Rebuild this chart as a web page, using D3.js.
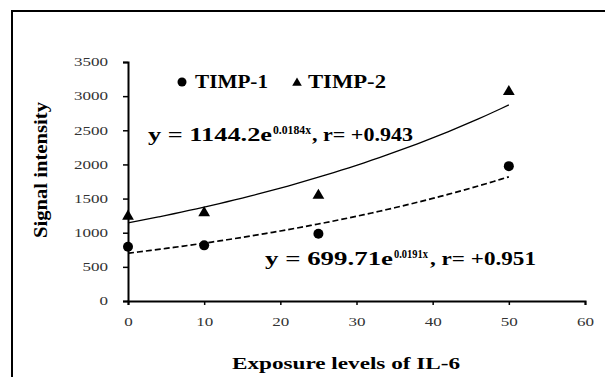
<!DOCTYPE html>
<html>
<head>
<meta charset="utf-8">
<script src="https://cdn.jsdelivr.net/npm/d3@7"></script>
<style>
  body { margin: 0; background: #fff; }
  .bold { font-family: "Liberation Serif", serif; font-weight: bold; }
</style>
</head>
<body>
<script>
// exposure levels and measured signal
var doses = [0, 10, 25, 50];
var timp1 = [795, 815, 985, 1975];
var timp2 = [1255, 1305, 1560, 3080];
// fitted exponential trends, y = a * e^(b x)
var fit1 = {a: 699.71, b: 0.0191, label: "699.71e", exp: "0.0191x", r: "+0.951"};
var fit2 = {a: 1144.2, b: 0.0184, label: "1144.2e", exp: "0.0184x", r: "+0.943"};
var xTicks = [0, 10, 20, 30, 40, 50, 60];
var yTicks = [0, 500, 1000, 1500, 2000, 2500, 3000, 3500];

var W = 605, H = 377;
var svg = d3.select("body").append("svg")
    .attr("width", W)
    .attr("height", H);

// outer frame, runs off the right and bottom edges
svg.append("rect")
    .attr("x", 12).attr("y", 11)
    .attr("width", 620).attr("height", 400)
    .attr("fill", "none")
    .attr("stroke", "#000")
    .attr("stroke-width", 2);

var x = d3.scaleLinear().domain([0, 60]).range([128, 585]);
var y = d3.scaleLinear().domain([0, 3500]).range([301, 62]);

var xAxis = svg.append("g")
    .attr("transform", "translate(0," + y(0) + ")")
    .call(d3.axisBottom(x).tickValues(xTicks).tickFormat(d3.format("d"))
        .tickSize(4).tickPadding(10));
var yAxis = svg.append("g")
    .attr("transform", "translate(" + x(0) + ",0)")
    .call(d3.axisLeft(y).tickValues(yTicks).tickFormat(d3.format("d"))
        .tickSize(5).tickPadding(15));
[xAxis, yAxis].forEach(function(a) {
  a.attr("font-family", "Liberation Serif").attr("font-size", 12);
  a.select(".domain").attr("stroke-width", 2);
  a.selectAll(".tick line").attr("stroke-width", 1.5);
  a.selectAll(".tick text").attr("fill", "#333")
      .attr("lengthAdjust", "spacingAndGlyphs")
      .attr("textLength", function(d) { return String(d).length * 8.5; });
});
xAxis.selectAll(".tick text").attr("dy", "0.9em");

// trend lines from the fitted equations
function trend(f) {
  var pts = d3.range(0, 50.5, 1).map(function(d) { return [d, f.a * Math.exp(f.b * d)]; });
  return d3.line().x(function(d) { return x(d[0]); }).y(function(d) { return y(d[1]); })
      .curve(d3.curveMonotoneX)(pts);
}
svg.append("path").attr("d", trend(fit2))
    .attr("fill", "none").attr("stroke", "#000").attr("stroke-width", 1.3);
svg.append("path").attr("d", trend(fit1))
    .attr("fill", "none").attr("stroke", "#000").attr("stroke-width", 1.7)
    .attr("stroke-dasharray", "6,3");

var tri = d3.symbol().type(d3.symbolTriangle).size(60);
svg.selectAll(".p1").data(doses).enter().append("circle")
    .attr("cx", function(d) { return x(d); })
    .attr("cy", function(d, i) { return y(timp1[i]); })
    .attr("r", 5).attr("fill", "#000");
svg.selectAll(".p2").data(doses).enter().append("path")
    .attr("d", tri)
    .attr("transform", function(d, i) { return "translate(" + x(d) + "," + (y(timp2[i]) + 1) + ")"; })
    .attr("fill", "#000");

// stretched bold text, the source figure is widened horizontally
function wide(txt, px, py, size, len) {
  return svg.append("text").attr("class", "bold").attr("x", px).attr("y", py)
      .style("font-size", size + "px")
      .attr("lengthAdjust", "spacingAndGlyphs").attr("textLength", len)
      .text(txt);
}

// legend
svg.append("circle").attr("cx", 182).attr("cy", 82).attr("r", 4.5).attr("fill", "#000");
wide("TIMP-1", 195, 88, 18, 73);
svg.append("path").attr("d", d3.symbol().type(d3.symbolTriangle).size(40))
    .attr("transform", "translate(297,83)").attr("fill", "#000");
wide("TIMP-2", 308, 88, 18, 78);

// equations: base, exponent, correlation
function equation(f, py, parts) {
  wide("y = " + f.label, parts[0][0], py, 18, parts[0][1]);
  wide(f.exp, parts[1][0], py - 7, 12, parts[1][1]);
  wide(", r= " + f.r, parts[2][0], py, 18, parts[2][1]);
}
equation(fit2, 141, [[148, 124], [273, 38], [312, 101]]);
equation(fit1, 265, [[265, 128], [394, 34], [430, 106]]);

// axis titles
svg.append("text").attr("class", "bold")
    .attr("transform", "translate(47,170) rotate(-90)")
    .attr("text-anchor", "middle")
    .style("font-size", "19px")
    .attr("lengthAdjust", "spacingAndGlyphs").attr("textLength", 136)
    .text("Signal intensity");
svg.append("text").attr("class", "bold")
    .attr("x", 346).attr("y", 369)
    .attr("text-anchor", "middle")
    .style("font-size", "16px")
    .attr("lengthAdjust", "spacingAndGlyphs").attr("textLength", 228)
    .text("Exposure levels of IL-6");
</script>
</body>
</html>
